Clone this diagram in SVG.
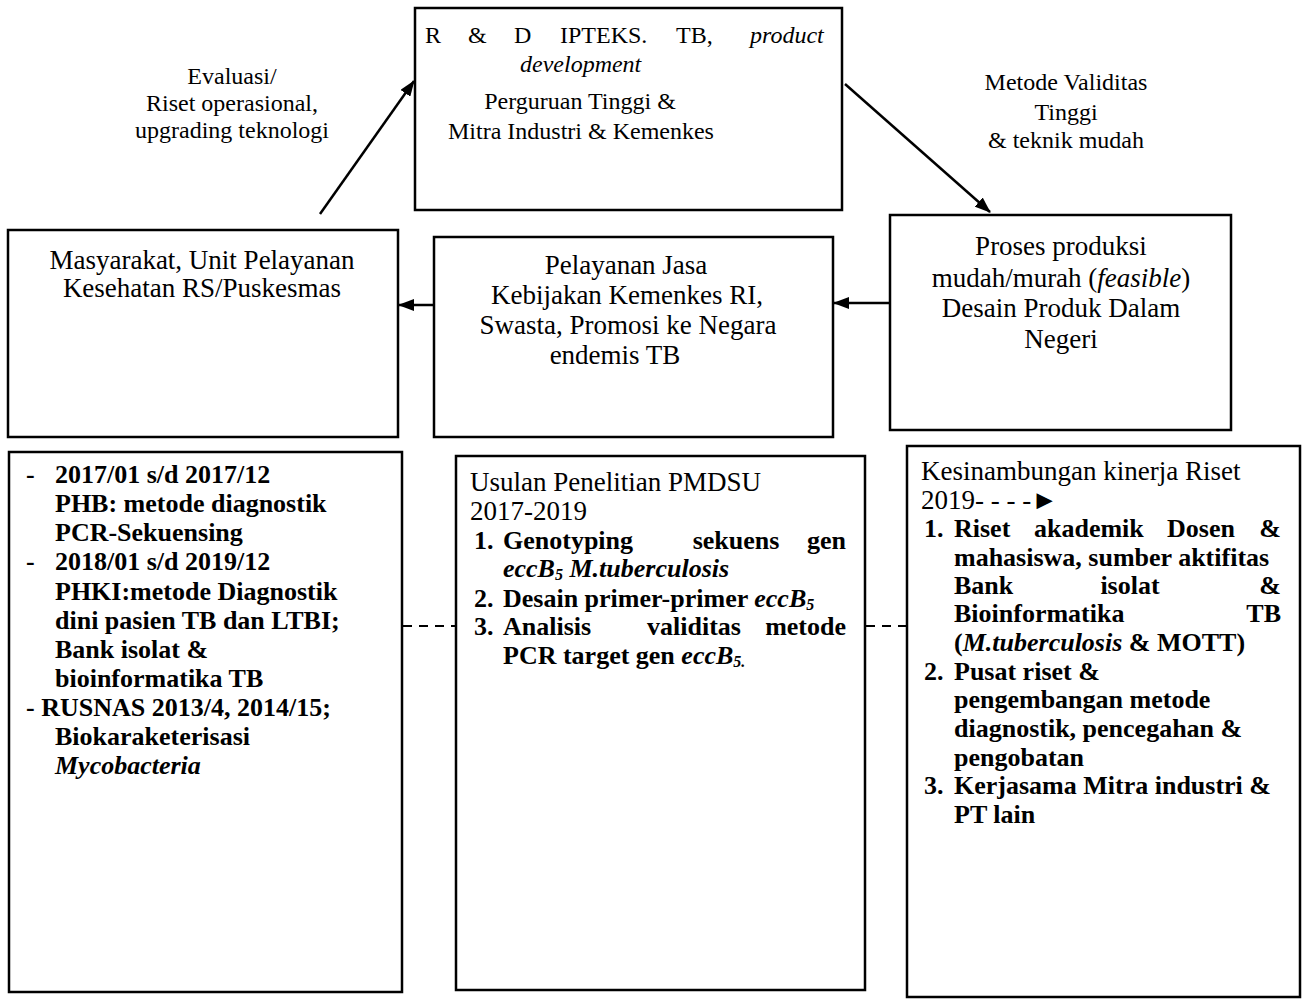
<svg xmlns="http://www.w3.org/2000/svg" width="1309" height="1000" viewBox="0 0 1309 1000">
<defs>
<style>
.box{fill:#fff;stroke:#000;stroke-width:2.5}
.t{font-family:"Liberation Serif","Times New Roman",serif;font-size:24px;fill:#000}
.m{font-family:"Liberation Serif","Times New Roman",serif;font-size:27px;fill:#000}
.c{text-anchor:middle}
.b{font-family:"Liberation Serif","Times New Roman",serif;font-size:26px;fill:#000;font-weight:bold}
.r{font-family:"Liberation Serif","Times New Roman",serif;font-size:27px;fill:#000}
.e{text-anchor:end}
.i{font-style:italic}
.sub{font-size:16px}
.conn{stroke:#000;stroke-width:2.5;fill:none}
.dash{stroke:#000;stroke-width:2;fill:none;stroke-dasharray:9 7}
</style>
<marker id="ah" viewBox="0 0 16 12" refX="15" refY="6" markerWidth="16" markerHeight="12" markerUnits="userSpaceOnUse" orient="auto">
<path d="M0,0 L16,6 L0,12 Z" fill="#000"/>
</marker>
</defs>
<rect width="1309" height="1000" fill="#fff"/>

<g id="connectors">
<line class="conn" x1="320" y1="214" x2="414" y2="81" marker-end="url(#ah)"/>
<line class="conn" x1="845" y1="84" x2="990" y2="212" marker-end="url(#ah)"/>
<line class="conn" x1="434" y1="305" x2="399" y2="305" marker-end="url(#ah)"/>
<line class="conn" x1="890" y1="303" x2="834" y2="303" marker-end="url(#ah)"/>
<line class="dash" x1="403" y1="626" x2="456" y2="626"/>
<line class="dash" x1="866" y1="626" x2="907" y2="626"/>
</g>

<g id="label-evaluasi">
<text class="t c" x="232" y="84">Evaluasi/</text>
<text class="t c" x="232" y="111">Riset operasional,</text>
<text class="t c" x="232" y="138">upgrading teknologi</text>
</g>

<g id="label-metode">
<text class="t c" x="1066" y="90">Metode Validitas</text>
<text class="t c" x="1066" y="120">Tinggi</text>
<text class="t c" x="1066" y="148">&amp; teknik mudah</text>
</g>

<g id="node-rd">
<rect class="box" x="415" y="8" width="427" height="202"/>
<text class="t" y="43"><tspan x="425">R</tspan><tspan x="468">&amp;</tspan><tspan x="514">D</tspan><tspan x="560">IPTEKS.</tspan><tspan x="676">TB,</tspan><tspan x="750" class="i">product</tspan></text>
<text class="t i" x="520" y="72">development</text>
<text class="t c" x="580" y="109">Perguruan Tinggi &amp;</text>
<text class="t c" x="581" y="139">Mitra Industri &amp; Kemenkes</text>
</g>

<g id="node-masyarakat">
<rect class="box" x="8" y="230" width="390" height="207"/>
<text class="m c" x="202" y="269">Masyarakat, Unit Pelayanan</text>
<text class="m c" x="202" y="297">Kesehatan RS/Puskesmas</text>
</g>

<g id="node-pelayanan">
<rect class="box" x="434" y="237" width="399" height="200"/>
<text class="m c" x="626" y="274">Pelayanan Jasa</text>
<text class="m c" x="627" y="304">Kebijakan Kemenkes RI,</text>
<text class="m c" x="628" y="334">Swasta, Promosi ke Negara</text>
<text class="m c" x="615" y="364">endemis TB</text>
</g>

<g id="node-proses">
<rect class="box" x="890" y="215" width="341" height="215"/>
<text class="m c" x="1061" y="255">Proses produksi</text>
<text class="m c" x="1061" y="287">mudah/murah (<tspan class="i">feasible</tspan>)</text>
<text class="m c" x="1061" y="317">Desain Produk Dalam</text>
<text class="m c" x="1061" y="348">Negeri</text>
</g>

<g id="node-riwayat">
<rect class="box" x="9" y="452" width="393" height="540"/>
<text class="b" x="26" y="483">-</text>
<text class="b" x="55" y="483">2017/01 s/d 2017/12</text>
<text class="b" x="55" y="512">PHB: metode diagnostik</text>
<text class="b" x="55" y="541">PCR-Sekuensing</text>
<text class="b" x="26" y="570">-</text>
<text class="b" x="55" y="570">2018/01 s/d 2019/12</text>
<text class="b" x="55" y="600">PHKI:metode Diagnostik</text>
<text class="b" x="55" y="629">dini pasien TB dan LTBI;</text>
<text class="b" x="55" y="658">Bank isolat &amp;</text>
<text class="b" x="55" y="687">bioinformatika TB</text>
<text class="b" x="26" y="716">- RUSNAS 2013/4, 2014/15;</text>
<text class="b" x="55" y="745">Biokaraketerisasi</text>
<text class="b i" x="55" y="774">Mycobacteria</text>
</g>

<g id="node-usulan">
<rect class="box" x="456" y="456" width="409" height="534"/>
<text class="r" x="470" y="491">Usulan Penelitian PMDSU</text>
<text class="r" x="470" y="520">2017-2019</text>
<text class="b" x="474" y="549">1.</text>
<text class="b" x="503" y="549">Genotyping</text>
<text class="b c" x="736" y="549">sekuens</text>
<text class="b e" x="846" y="549">gen</text>
<text class="b i" x="503" y="577">eccB<tspan class="sub" baseline-shift="-3">5</tspan> M.tuberculosis</text>
<text class="b" x="474" y="607">2.</text>
<text class="b" x="503" y="607">Desain primer-primer <tspan class="i">eccB</tspan><tspan class="i sub" baseline-shift="-3">5</tspan></text>
<text class="b" x="474" y="635">3.</text>
<text class="b" x="503" y="635">Analisis</text>
<text class="b c" x="694" y="635">validitas</text>
<text class="b e" x="846" y="635">metode</text>
<text class="b" x="503" y="664">PCR target gen <tspan class="i">eccB</tspan><tspan class="i sub" baseline-shift="-3">5.</tspan></text>
</g>

<g id="node-kesinambungan">
<rect class="box" x="907" y="446" width="393" height="551"/>
<text class="r" x="921" y="480">Kesinambungan kinerja Riset</text>
<text class="r" x="921" y="509">2019- - - -►</text>
<text class="b" x="924" y="537">1.</text>
<text class="b" x="954" y="537">Riset</text>
<text class="b" x="1034" y="537">akademik</text>
<text class="b" x="1167" y="537">Dosen</text>
<text class="b e" x="1281" y="537">&amp;</text>
<text class="b" x="954" y="566">mahasiswa, sumber aktifitas</text>
<text class="b" x="954" y="594">Bank</text>
<text class="b c" x="1130" y="594">isolat</text>
<text class="b e" x="1281" y="594">&amp;</text>
<text class="b" x="954" y="622">Bioinformatika</text>
<text class="b e" x="1281" y="622">TB</text>
<text class="b" x="954" y="651">(<tspan class="i">M.tuberculosis</tspan>  &amp; MOTT)</text>
<text class="b" x="924" y="680">2.</text>
<text class="b" x="954" y="680">Pusat riset &amp;</text>
<text class="b" x="954" y="708">pengembangan metode</text>
<text class="b" x="954" y="737">diagnostik, pencegahan &amp;</text>
<text class="b" x="954" y="766">pengobatan</text>
<text class="b" x="924" y="794">3.</text>
<text class="b" x="954" y="794">Kerjasama Mitra industri &amp;</text>
<text class="b" x="954" y="823">PT lain</text>
</g>
</svg>
